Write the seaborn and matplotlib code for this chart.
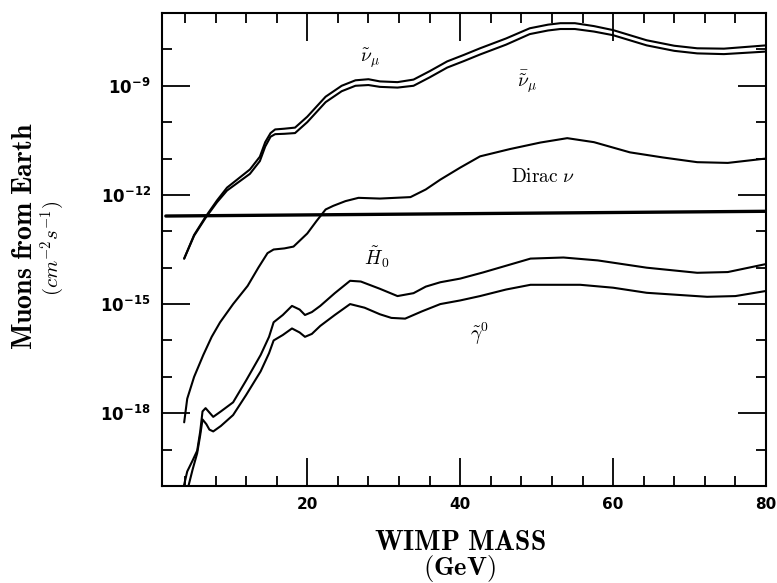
import numpy as np
import pandas as pd
import seaborn as sns
import matplotlib.pyplot as plt
from matplotlib.ticker import FixedLocator, NullFormatter

# Dados (massa em GeV, fluxo em log10 de cm^-2 s^-1)
massa_nu = [3.9, 5.2, 6.7, 8.2, 9.5, 11.0, 12.5, 13.8, 14.5, 15.2, 15.8, 17.0, 18.4, 20.0, 22.4, 24.5, 26.3, 28.0, 29.5, 31.8, 33.9, 36.0, 38.3, 40.5, 42.6, 46.0, 49.1, 51.5, 53.1, 55.0, 57.5, 60.0, 64.4, 68.0, 71.0, 74.5, 80.0]
log_nu = [-13.75, -13.1, -12.6, -12.15, -11.8, -11.55, -11.3, -10.95, -10.55, -10.3, -10.2, -10.18, -10.15, -9.85, -9.3, -9.0, -8.85, -8.82, -8.88, -8.9, -8.83, -8.6, -8.33, -8.15, -7.97, -7.7, -7.42, -7.32, -7.28, -7.28, -7.36, -7.47, -7.75, -7.9, -7.97, -7.98, -7.89]
log_nubar = [-13.75, -13.12, -12.63, -12.2, -11.88, -11.65, -11.42, -11.07, -10.67, -10.4, -10.33, -10.32, -10.3, -10.0, -9.45, -9.15, -9.0, -8.98, -9.03, -9.05, -9.0, -8.77, -8.5, -8.32, -8.14, -7.87, -7.58, -7.48, -7.44, -7.44, -7.51, -7.61, -7.89, -8.04, -8.11, -8.13, -8.06]

massa_dirac = [3.9, 4.3, 5.2, 6.4, 7.5, 8.6, 10.3, 12.2, 13.6, 14.8, 15.6, 17.0, 18.2, 20.0, 21.2, 22.4, 23.4, 25.0, 26.7, 29.5, 33.5, 35.5, 37.4, 40.0, 42.6, 46.5, 50.5, 54.0, 57.5, 62.2, 66.5, 71.0, 75.0, 80.0]
log_dirac = [-18.25, -17.6, -17.0, -16.4, -15.9, -15.5, -15.0, -14.5, -14.0, -13.6, -13.5, -13.47, -13.42, -13.06, -12.72, -12.4, -12.3, -12.17, -12.08, -12.1, -12.06, -11.85, -11.58, -11.25, -10.94, -10.74, -10.56, -10.44, -10.55, -10.83, -10.97, -11.1, -11.12, -11.0]

massa_h0 = [3.8, 4.3, 5.0, 5.6, 6.0, 6.3, 6.7, 7.2, 7.7, 8.7, 10.3, 12.0, 13.9, 15.0, 15.6, 16.8, 18.0, 19.0, 19.7, 20.6, 21.7, 23.6, 25.6, 27.0, 29.5, 31.8, 33.9, 35.5, 37.4, 40.0, 43.0, 49.2, 53.5, 58.0, 64.4, 71.0, 75.0, 80.0]
log_h0 = [-20.05, -19.6, -19.3, -19.03, -18.5, -17.95, -17.86, -17.98, -18.1, -17.95, -17.7, -17.1, -16.4, -15.9, -15.5, -15.3, -15.05, -15.15, -15.3, -15.22, -15.05, -14.7, -14.36, -14.38, -14.58, -14.78, -14.7, -14.52, -14.4, -14.3, -14.13, -13.75, -13.72, -13.8, -14.0, -14.14, -14.12, -13.9]

massa_gama = [4.4, 5.0, 5.6, 6.0, 6.3, 6.8, 7.2, 7.7, 8.7, 10.3, 12.0, 13.9, 15.0, 15.6, 16.8, 18.0, 19.0, 19.7, 20.6, 21.7, 23.6, 25.6, 27.5, 29.5, 31.0, 32.8, 35.0, 37.4, 40.0, 42.6, 46.0, 49.2, 55.7, 60.0, 64.4, 72.3, 76.0, 80.0]
log_gama = [-20.05, -19.55, -19.1, -18.6, -18.17, -18.3, -18.45, -18.5, -18.35, -18.05, -17.5, -16.85, -16.35, -16.0, -15.85, -15.67, -15.78, -15.9, -15.82, -15.6, -15.3, -15.0, -15.1, -15.28, -15.38, -15.4, -15.2, -15.0, -14.9, -14.78, -14.6, -14.47, -14.47, -14.55, -14.69, -14.8, -14.78, -14.64]

massa_limite = [1.5, 80.0]
log_limite = [-12.58, -12.45]

rotulos_y = [r'$\mathbf{10^{-18}}$', r'$\mathbf{10^{-15}}$', r'$\mathbf{10^{-12}}$', r'$\mathbf{10^{-9}}$']
rotulos_x = ['20', '40', '60', '80']

sns.set_style('ticks')
plt.rcParams['mathtext.fontset'] = 'dejavusans'
plt.rcParams['text.color'] = 'black'
plt.rcParams['xtick.color'] = 'black'
plt.rcParams['ytick.color'] = 'black'
plt.rcParams['axes.labelcolor'] = 'black'

fig = plt.figure(figsize=(7.77, 5.83), dpi=100, facecolor='white')
ax = fig.add_axes([162 / 777, 1 - 486 / 583, (766 - 162) / 777, (486 - 13) / 583])
ax.set_facecolor('white')

# Curvas
def plot_curva(x, logy, lw=1.5):
    df = pd.DataFrame({'m': x, 'fluxo': 10.0 ** np.array(logy)})
    sns.lineplot(data=df, x='m', y='fluxo', color='black', linewidth=lw, ax=ax,
                 sort=False, estimator=None)

plot_curva(massa_nu, log_nu)
plot_curva(massa_nu, log_nubar)
plot_curva(massa_dirac, log_dirac)
plot_curva(massa_h0, log_h0)
plot_curva(massa_gama, log_gama)
plot_curva(massa_limite, log_limite, lw=2.4)

ax.set_yscale('log')
ax.set_xlim(1, 80)
ax.set_ylim(1e-20, 1e-7)

# Eixos e marcas
ax.xaxis.set_major_locator(FixedLocator([20, 40, 60, 80]))
ax.xaxis.set_minor_locator(FixedLocator(list(range(4, 80, 4))))
ax.set_xticklabels(rotulos_x, fontsize=11, fontweight='bold', color='black')
ax.yaxis.set_major_locator(FixedLocator([1e-18, 1e-15, 1e-12, 1e-9]))
ax.yaxis.set_minor_locator(FixedLocator([10.0 ** k for k in range(-20, -6)]))
ax.yaxis.set_minor_formatter(NullFormatter())
ax.set_yticklabels(rotulos_y, fontsize=12, color='black')
ax.tick_params(which='both', direction='in', top=True, right=True, color='black', width=1.3)
ax.tick_params(which='major', length=20, pad=8)
ax.tick_params(which='minor', length=7)
for s in ax.spines.values():
    s.set_linewidth(1.5)
    s.set_color('black')
ax.set_xlabel('')
ax.set_ylabel('')

# Rótulos das curvas
ax.text(28.2, 10 ** -8.25, r'$\tilde{\nu}_\mu$', fontsize=14, ha='center', va='center', math_fontfamily='cm')
ax.text(48.8, 10 ** -8.9, r'$\bar{\tilde{\nu}}_\mu$', fontsize=14, ha='center', va='center', math_fontfamily='cm')
ax.text(50.8, 10 ** -11.5, r'$\mathrm{Dirac}\ \nu$', fontsize=14, ha='center', va='center', math_fontfamily='cm')
ax.text(29.1, 10 ** -13.72, r'$\tilde{H}_0$', fontsize=14, ha='center', va='center', math_fontfamily='cm')
ax.text(42.6, 10 ** -15.83, r'$\tilde{\gamma}^0$', fontsize=14, ha='center', va='center', math_fontfamily='cm')

# Títulos dos eixos
fig.text(460 / 777, 1 - 542 / 583, r'$\mathbf{WIMP\ MASS}$', fontsize=20, ha='center', va='center', math_fontfamily='cm')
fig.text(459 / 777, 1 - 569 / 583, r'$\mathbf{(GeV)}$', fontsize=19, ha='center', va='center', math_fontfamily='cm')
fig.text(24 / 777, 1 - 236 / 583, r'$\mathbf{Muons\ from\ Earth}$', fontsize=20, rotation=90, ha='center', va='center', math_fontfamily='cm')
fig.text(53 / 777, 1 - 248 / 583, r'$(cm^{-2}s^{-1})$', fontsize=15, rotation=90, ha='center', va='center', math_fontfamily='cm')

plt.savefig('out.png', dpi=100)
plt.close()
